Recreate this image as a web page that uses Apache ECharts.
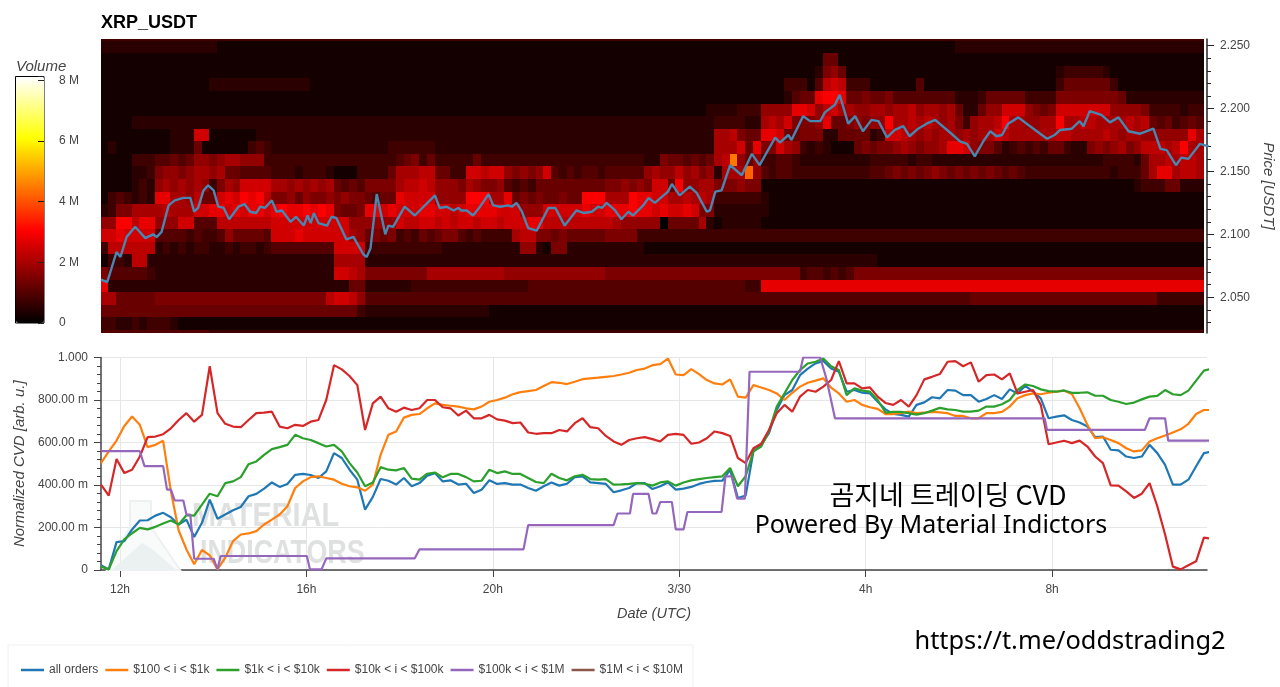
<!DOCTYPE html>
<html style="height: 100%">
<head>
<meta charset="utf-8">
<script src="https://cdn.jsdelivr.net/npm/echarts@6/dist/echarts.min.js"></script>
</head>
<body style="height: 100%; margin: 0; background: #fff">
<div id="container" style="width: 1280px; height: 687px"></div>
<script type="text/javascript">
// hours since 3/29 00:00 (24 = 3/30)
var xMin = 11.592, xMax = 35.325;
var tickHours = [12, 16, 20, 24, 28, 32];
var tickLabels = ['12h', '16h', '20h', '3/30', '4h', '8h'];

var priceMin = 2.0216, priceMax = 2.2553;
var priceTicks = [2.05, 2.10, 2.15, 2.20, 2.25];
var priceMinorTicks = [2.03, 2.04, 2.06, 2.07, 2.08, 2.09, 2.11, 2.12, 2.13, 2.14, 2.16, 2.17, 2.18, 2.19, 2.21, 2.22, 2.23, 2.24];

// heatmap: one string per price bin, top to bottom, one char per 10 minutes
// base 36 digit, in steps of 0.25 M volume
var heatRows = [
'3333333333 3333333333 3333333333 3333333333 3333333333 3333333333 3333333333 3333333333 3333333333 3333333333 3333333333 3333333333 3333333333 3333333333 33',
'2222222222 2222211111 1111111111 1111111111 1111111111 1111111111 1111111111 1111111111 1111111111 1111111111 1111111111 2222222222 2222222222 2222222222 22',
'1111111111 1111111111 1111111111 1111111111 1111111111 1111111111 1111111111 1111111111 1111111111 1115511111 1111111111 1111111111 1111111111 1111111111 11',
'1111111111 1111111111 1111111111 1111111111 1111111111 1111111111 1111111111 1111111111 1111111111 1126751111 1111111111 1111111111 1112333332 1111111111 11',
'1111111111 1111222222 2222222111 1111111111 1111111111 1111111111 1111111111 1111111111 1111111133 3149a93331 1111141111 1111111111 1113555555 3111111111 11',
'1111111111 1111111111 1111111111 1111111111 1111111111 1111111111 1111111111 1111111111 1111111124 55bccb5565 5644444444 2223555553 3336666666 6522222222 22',
'1111111111 1111111111 1111111111 1111111111 1111111111 1111111111 1111111111 1111111122 223337777b ba79a88778 8788978878 522577aaa7 656aaaaaaa 7777633332 33',
'1111222222 2222222222 2222222222 2222222222 2222222222 2222222222 2222222222 2222222223 3332289 8a6 667b556767 7c88989878 63788 9c887 788c889988 8898954534 54',
'1111111112 22aa111111 2222222222 2222222222 2222222222 2222222222 2222222222 2222222228 89655bba55 6662255552 3aa9878788 78788a9888 8889988889 8788777777 b8',
'1211111112 2251111113 4322222222 2222222333 3332222222 2222222222 2222222222 2222222228 88a5b66a87 3232111565 667876778b ba76642343 4355322676 786799989c 88',
'1111333445 4577678877 7333333333 3333333345 6353333353 3333333333 3333333333 2265545458 9i75733443 2222222223 3333233222 2222222222 2222222223 3332588989 98',
'1111223677 6788785544 4433323332 1113333588 8995533aa9 aa76767a43 4344344444 7877978672 888h743443 3333333334 4565656765 6565654543 3333333333 233358bb89 98',
'1111232787 8787368 7aa aa88787878 5454666689 9a97776876 6743435555 5555566767 6aa5c77886 6676611111 1111111111 1111111111 1111111111 1111111111 1112333552 22',
'1343232bb8 87955abacb c966757667 67665455ba aaa7777ccc 88b5656556 55ccc888cb baa8898983 3333321111 1111111111 1111111111 1111111111 1111111111 1111111111 11',
'2366888898 88aabbabab babcbbcbcb 6556bbabaa abbaa9abbb baaa777aaa aabaabbbcb babaaba662 2222221111 1111111111 1111111111 1111111111 1111111111 1111111111 11',
'77cc9bb777 aa44499999 99aaaaaaaa aa777777a9 9aa9a9aa9a a9aaabb999 9999998777 7705555821 2222211111 1111111111 1111111111 1111111111 1111111111 1111111111 11',
'aabaaaa444 4343347555 54aaabaaaa aa87565634 3545664343 3338996656 5555566663 3333333333 3333333333 3333333333 3333333333 3333333333 3333333333 3333333333 33',
'3999999232 3233223233 2344444444 aaaa333333 3333222222 2222772166 2222222222 1111111111 1111111111 1111111111 1111111111 1111111111 1111111111 1111111111 11',
'1332992222 2222222222 2222222222 8888222222 2222222222 2222222222 2222222222 2222222222 2222222222 2222222222 1111111111 1111111111 1111111111 1111111111 11',
'6444443222 2222222222 2222222222 aa98666666 6688888888 8877777777 7777766666 6666666666 6666666666 3443434666 6666666666 6666666666 6666666666 6666666666 66',
'b222222222 2222222222 2222222222 2255222222 3333333333 3333344444 4444444444 4444444444 44433bbbbb bbbbbbbbbb bbbbbbbbbb bbbbbbbbbb bbbbbbbbbb bbbbbbbbbb bb',
'8855555666 6666666666 6666666669 aa97444444 4444444444 4444444444 4444444444 4444444444 4444444444 4444444444 4444444444 4455555555 5555555555 5555553333 33',
'5555555555 5555555555 5555555555 5553222222 2222222222 1111111111 1111111111 1111111111 1111111111 1111111111 1111111111 1111111111 1111111111 1111111111 11',
'3322323332 1111111111 1111111111 1111111111 1111111111 1111111111 1111111111 1111111111 1111111111 1111111111 1111111111 1111111111 1111111111 1111111111 11',
'4444444444 4444333333 3333333333 3333333333 3333333333 3333333333 3333333333 3333333333 3333333333 3333333333 3333333333 3333333333 3333333333 3333333333 33'
];

// price line vertices, sample index (10 minute steps) and price
var priceKeys = [0,.8,2,2.5,3.3,4.4,5.7,6.7,7.2,7.8,8.7,9.5,10.6,11.5,12,12.5,13.2,13.8,14.5,15.1,15.8,16.5,17.7,18.5,19.2,20,20.5,21.1,22,22.6,23.3,24.4,25.1,26.1,26.6,27,27.4,28,29.1,29.7,30.3,31.6,32.5,33.8,34.2,34.7,35.5,36.6,37,37.6,39.1,40.4,43,43.6,44.5,45.4,46,46.4,47.1,47.9,48.8,49.9,50.5,51.4,
  52.4,52.9,53.5,54.2,55,56.1,57.6,58.5,59.7,61.2,62.1,63.2,64,64.5,65.1,66.2,67,67.9,68.5,69.8,70.5,71.3,73,73.5,74.5,75.8,76.7,78,78.4,79.1,79.9,81,82.5,83.8,84.8,86.8,87.4,88.5,88.9,90.4,91.3,92.6,93.2,94.5,95.1,96.2,97.1,98.1,99.2,100.1,101.2,102.2,103.3,104.1,105.2,106.3,107.4,109.5,110.6,111.5,112.5,113.6,114.5,115.3,116,116.8,118.1,119.4,121.8,122.8,123.5,125,126,126.5,127.3,128.8,129.9,131,132.3,133.8,135.5,136.4,137.2,138.4,139.1,140,141.5,142.6];
var priceValues = [2.064,2.062,2.086,2.082,2.098,2.106,2.097,2.100,2.098,2.102,2.123,2.127,2.129,2.129,2.118,2.121,2.135,2.139,2.135,2.122,2.121,2.112,2.122,2.124,2.118,2.117,2.122,2.121,2.127,2.118,2.119,2.110,2.114,2.107,2.115,2.109,2.117,2.109,2.107,2.114,2.113,2.096,2.098,2.084,2.082,2.089,2.132,2.100,2.107,2.106,2.122,2.115,2.131,2.121,2.122,2.119,2.121,2.119,2.119,2.115,2.122,2.132,2.123,2.122,
  2.123,2.122,2.125,2.118,2.105,2.103,2.121,2.121,2.107,2.119,2.117,2.118,2.122,2.121,2.125,2.119,2.112,2.118,2.115,2.123,2.129,2.125,2.134,2.140,2.131,2.138,2.133,2.118,2.119,2.134,2.135,2.155,2.147,2.164,2.155,2.177,2.173,2.179,2.175,2.194,2.190,2.190,2.197,2.203,2.211,2.188,2.194,2.182,2.191,2.190,2.177,2.183,2.186,2.178,2.184,2.188,2.191,2.180,2.174,2.172,2.162,2.174,2.182,2.178,2.179,2.188,2.193,2.187,2.176,2.179,2.183,2.184,2.190,2.186,2.198,2.195,2.189,2.193,2.182,2.180,2.184,2.168,2.167,2.155,2.161,2.160,2.172,2.170];

// CVD series, milli units, one value per 10 minute sample
var allOrders = [22,3,131,136,191,233,234,256,269,248, 214,237,155,222,331,241,261,281,297,347,
  358,383,412,391,405,448,452,447,433,464, 550,527,472,425,284,344,428,420,402,433,
  394,409,444,456,417,422,402,406,362,378, 422,405,409,402,402,386,373,394,412,397,
  406,437,441,412,409,405,366,375,386,409, 409,381,394,412,378,383,391,405,414,419,
  420,472,339,350,558,589,644,753,823,847, 917,948,972,984,948,933,839,847,834,831,
  792,756,734,730,722,777,789,813,808,847, 844,823,823,792,805,823,805,850,831,867,
  839,808,714,722,728,706,694,675,625,628, 566,563,534,527,534,589,550,495,402,402, 425,488,550,558];
var orders100 = [503,558,609,678,722,683,578,589,608,370, 186,97,27,94,69,3,58,136,167,172,
  183,214,237,261,300,386,417,437,441,433, 425,406,394,389,373,402,542,636,652,717,
  730,734,761,784,777,773,769,761,756,769, 792,800,811,827,837,842,847,866,884,881,
  875,886,898,902,905,909,913,920,928,941, 948,964,969,995,920,917,945,922,894,878,
  873,897,816,811,870,859,847,831,800,834, 863,881,891,902,858,831,792,800,777,766,
  758,734,734,738,745,738,741,744,742,738, 725,725,714,714,738,738,744,769,808,823,
  831,827,834,839,844,828,761,683,620,625, 612,597,573,558,563,605,620,633,647,662, 688,734,753,753];
var orders1k = [16,3,89,144,173,198,191,203,219,233, 214,258,256,308,359,347,409,417,437,498,
  511,542,569,578,589,636,620,612,597,581, 589,558,503,459,394,412,484,472,469,480,
  430,425,453,459,436,452,452,437,417,420, 472,456,464,452,452,433,414,409,453,433,
  422,441,448,428,425,428,402,403,405,409, 406,397,412,417,397,412,422,428,433,437,
  441,480,394,441,558,581,652,769,831,894, 941,972,980,995,959,941,823,855,844,839,
  800,741,744,744,738,731,738,750,763,756, 753,745,745,750,769,769,780,800,847,873,
  866,850,842,839,845,834,834,836,820,820, 800,792,781,788,803,816,819,847,827,823, 844,891,938,948];
var orders10k = [402,350,522,456,472,534,625,628,639,667, 706,738,698,730,959,738,688,675,672,706,
  738,741,745,675,667,683,678,698,706,800, 964,944,913,870,659,784,816,761,745,764,
  753,761,800,800,766,761,727,750,714,714, 730,709,703,691,694,647,641,644,644,659,
  652,691,714,672,667,631,605,589,612,620, 625,616,605,636,641,636,594,600,620,652,
  644,631,527,503,573,594,659,738,777,745, 816,847,839,863,894,983,878,878,855,859,
  816,786,777,800,769,823,897,909,922,980, 983,959,977,886,917,920,897,925,831,839,
  847,777,592,600,608,597,609,581,534,503, 398,397,370,339,359,409,300,167,16,3, 22,41,152,147];
var orders100kKeys = [0,5,5.6,8,8.5,9,9.5,10.6,11,11.5,12,14.5,15,15.4,26.5,26.9,28.4,29,40.4,41,54.4,55,66,66.5,68.1,68.5,70.5,71,71.5,72,73.5,74,75,75.5,79.9,80.4,81.2,81.9,82.9,83.5,90,90.4,92.6,93.4,94.5,121.5,121.8,134.4,135,137,137.4,143];
var orders100kValues = [559,559,489,489,378,378,327,327,261,261,53,53,3,66,66,3,3,55,55,97,97,211,211,266,266,358,358,266,266,320,320,191,191,273,273,441,441,336,336,933,933,1000,1000,900,714,714,659,659,714,714,609,609];
var orders1m = [];

var seriesNames = ['all orders', '$100 < i < $1k', '$1k < i < $10k', '$10k < i < $100k', '$100k < i < $1M', '$1M < i < $10M'];
var seriesColors = ['#1f77b4', '#ff7f0e', '#2ca02c', '#d62728', '#9467bd', '#8c564b'];

var volumeTicks = [0, 2, 4, 6, 8];
var hotColors = ['#000000', '#550000', '#aa0000', '#ff0000', '#ff5500', '#ffaa00', '#ffff00', '#ffff80', '#ffffff'];

var font = '"Liberation Sans", Arial, sans-serif';
var textColor = '#444444';

function hourOf(k) {
    return xMin + k / 6;
}

function pairs(keys, values) {
    return values.map(function (v, i) {
        return [hourOf(keys[i]), v];
    });
}

function sampled(values) {
    return values.map(function (v, k) {
        return [hourOf(k), v];
    });
}

var heatData = [];
heatRows.forEach(function (row, t) {
    var cells = row.replace(/ /g, '');
    for (var c = 0; c < cells.length; c++) {
        heatData.push([11 + 40 / 60 + c / 6, 2.254 - 0.01 * t, parseInt(cells[c], 36) * 0.25]);
    }
});

function cvdLabel(v) {
    if (v === 0) return '0';
    if (v === 1000) return '1.000';
    return v.toFixed(2) + ' m';
}

function lineSeries(i, data) {
    return {
        name: seriesNames[i],
        type: 'line',
        xAxisIndex: 1,
        yAxisIndex: 2,
        showSymbol: false,
        symbol: 'none',
        data: data,
        lineStyle: { color: seriesColors[i], width: 2.2 },
        itemStyle: { color: seriesColors[i] },
        z: 3 + i
    };
}

var option = {
    animation: false,
    backgroundColor: '#ffffff',
    textStyle: { fontFamily: font },
    title: [
        { text: 'XRP_USDT', left: 101, top: 14, padding: 0, textStyle: { color: '#000', fontSize: 18, fontWeight: 'bold', fontFamily: font } },
        { text: 'Volume', left: 16, top: 59, padding: 0, textStyle: { color: textColor, fontSize: 15, fontStyle: 'italic', fontWeight: 'normal', fontFamily: font } }
    ],
    grid: [
        { left: 101, top: 39, width: 1106, height: 294, outerBoundsMode: 'none' },
        { left: 101, top: 357.5, width: 1106, height: 212.5, outerBoundsMode: 'none' },
        { left: 15.5, top: 76.5, width: 28.5, height: 246.5, outerBoundsMode: 'none', show: true, borderColor: '#000', borderWidth: 1, backgroundColor: 'transparent' }
    ],
    xAxis: [
        { gridIndex: 0, type: 'value', min: xMin, max: xMax, show: false },
        {
            gridIndex: 1, type: 'value', min: xMin, max: xMax,
            name: 'Date (UTC)', nameLocation: 'middle', nameGap: 36,
            nameTextStyle: { color: textColor, fontSize: 14.5, fontStyle: 'italic' },
            axisLine: { lineStyle: { color: '#444', width: 1.5 } },
            axisTick: { customValues: tickHours, length: 7, lineStyle: { color: '#444' } },
            axisLabel: {
                customValues: tickHours, color: textColor, fontSize: 12, margin: 14,
                formatter: function (v) { return tickLabels[tickHours.indexOf(v)]; }
            },
            splitLine: { show: true, lineStyle: { color: '#e6e6e6' } }
        },
        { gridIndex: 2, type: 'value', min: 0, max: 1, show: false }
    ],
    yAxis: [
        {
            gridIndex: 0, type: 'value', position: 'right', min: priceMin, max: priceMax,
            name: 'Price [USDT]', nameLocation: 'middle', nameRotate: -90, nameGap: 53,
            nameTextStyle: { color: textColor, fontSize: 15, fontStyle: 'italic' },
            axisLine: { show: true, onZero: false, lineStyle: { color: '#222', width: 1.5 } },
            axisTick: { customValues: priceTicks, length: 7, lineStyle: { color: '#222' } },
            axisLabel: {
                customValues: priceTicks, color: textColor, fontSize: 12, margin: 13,
                formatter: function (v) { return v.toFixed(3); }
            },
            splitLine: { show: false }
        },
        {
            gridIndex: 0, type: 'value', position: 'right', min: priceMin, max: priceMax,
            axisLine: { show: false, onZero: false },
            axisTick: { customValues: priceMinorTicks, length: 4, lineStyle: { color: '#222' } },
            axisLabel: { show: false },
            splitLine: { show: false }
        },
        {
            gridIndex: 1, type: 'value', min: 0, max: 1000, interval: 200,
            name: 'Normalized CVD [arb. u.]', nameLocation: 'middle', nameGap: 74,
            nameTextStyle: { color: textColor, fontSize: 15, fontStyle: 'italic' },
            axisLine: { show: true, onZero: false, lineStyle: { color: '#444', width: 1.5 } },
            axisTick: { show: true, length: 7, lineStyle: { color: '#444' } },
            minorTick: { show: true, splitNumber: 5, length: 4, lineStyle: { color: '#444' } },
            axisLabel: { color: textColor, fontSize: 12, margin: 13, formatter: cvdLabel },
            splitLine: { show: true, lineStyle: { color: '#e6e6e6' } }
        },
        {
            gridIndex: 2, type: 'value', position: 'right', min: 0, max: 8.13, interval: 2,
            axisLine: { show: false, onZero: false },
            axisTick: { show: true, inside: true, length: 6, lineStyle: { color: '#222' } },
            axisLabel: {
                color: textColor, fontSize: 12, margin: 15,
                customValues: volumeTicks,
                formatter: function (v) { return v === 0 ? '0' : v + ' M'; }
            },
            splitLine: { show: false },
            z: 10
        }
    ],
    visualMap: {
        type: 'continuous', seriesIndex: 0, dimension: 2,
        min: 0, max: 8.13, calculable: false, orient: 'vertical',
        left: 16, top: 77, padding: 0, itemWidth: 28, itemHeight: 246,
        text: null, showLabel: false, hoverLink: false,
        textStyle: { color: 'transparent', fontSize: 1 },
        inRange: { color: hotColors }
    },
    legend: {
        left: 8, top: 645, orient: 'horizontal',
        padding: [19, 10, 15, 13], itemGap: 7, itemWidth: 23, itemHeight: 2.5, icon: 'rect',
        borderColor: '#f0f0f0', borderWidth: 1,
        textStyle: { color: textColor, fontSize: 12 },
        data: seriesNames
    },
    graphic: [
        // watermark under the lines
        { type: 'polygon', z: 1, silent: true, shape: { points: [[130, 501], [151, 501], [151, 527], [180, 570], [107, 570], [130, 527]] }, style: { fill: 'rgba(238,242,242,0.35)', stroke: '#eef1f1', lineWidth: 2 } },
        { type: 'polygon', z: 1, silent: true, shape: { points: [[113, 569], [142, 543], [152, 549], [175, 569]] }, style: { fill: '#ebf0f0' } },
        { type: 'text', z: 1, silent: true, x: 192, y: 517, scaleX: 0.85, style: { text: 'MATERIAL', x: 0, y: 0, fill: '#dfe0e0', verticalAlign: 'middle', font: 'bold 34px "Liberation Sans"' } },
        { type: 'text', z: 1, silent: true, x: 200, y: 554, scaleX: 0.79, style: { text: 'INDICATORS', x: 0, y: 0, fill: '#dfe0e0', verticalAlign: 'middle', font: 'bold 34px "Liberation Sans"' } },
        // pasted captions
        { type: 'text', z: 50, silent: true, style: { text: '곰지네 트레이딩 CVD', x: 948, y: 495, align: 'center', verticalAlign: 'middle', fill: '#000', font: '27px "Noto Sans CJK KR"' } },
        { type: 'text', z: 50, silent: true, style: { text: 'Powered By Material Indictors', x: 931, y: 526, align: 'center', verticalAlign: 'middle', fill: '#000', font: '25px "Noto Sans"' } },
        { type: 'text', z: 50, silent: true, style: { text: 'https://t.me/oddstrading2', x: 1070, y: 642, align: 'center', verticalAlign: 'middle', fill: '#000', font: '25.4px "Noto Sans"' } }
    ],
    series: [
        {
            type: 'custom', xAxisIndex: 0, yAxisIndex: 0, silent: true,
            encode: { x: 0, y: 1 },
            data: heatData,
            renderItem: function (params, api) {
                var h = api.value(0), p = api.value(1);
                var a = api.coord([h - 1 / 12, p + 0.01]);
                var b = api.coord([h + 1 / 12, p]);
                var x0 = Math.round(a[0]), y0 = Math.round(a[1]);
                var shape = echarts.graphic.clipRectByRect(
                    { x: x0, y: y0, width: Math.round(b[0]) - x0, height: Math.round(b[1]) - y0 },
                    { x: params.coordSys.x, y: params.coordSys.y, width: params.coordSys.width, height: params.coordSys.height }
                );
                return shape && {
                    type: 'rect',
                    shape: shape,
                    style: { fill: api.visual('color') }
                };
            }
        },
        {
            type: 'line', xAxisIndex: 0, yAxisIndex: 0, symbol: 'none', showSymbol: false, z: 5,
            data: pairs(priceKeys, priceValues),
            lineStyle: { color: '#4787b2', width: 2.4 }
        },
        lineSeries(0, sampled(allOrders)),
        lineSeries(1, sampled(orders100)),
        lineSeries(2, sampled(orders1k)),
        lineSeries(3, sampled(orders10k)),
        lineSeries(4, pairs(orders100kKeys, orders100kValues)),
        lineSeries(5, orders1m)
    ]
};

var myChart = echarts.init(document.getElementById('container'));
myChart.setOption(option);
</script>
</body>
</html>
